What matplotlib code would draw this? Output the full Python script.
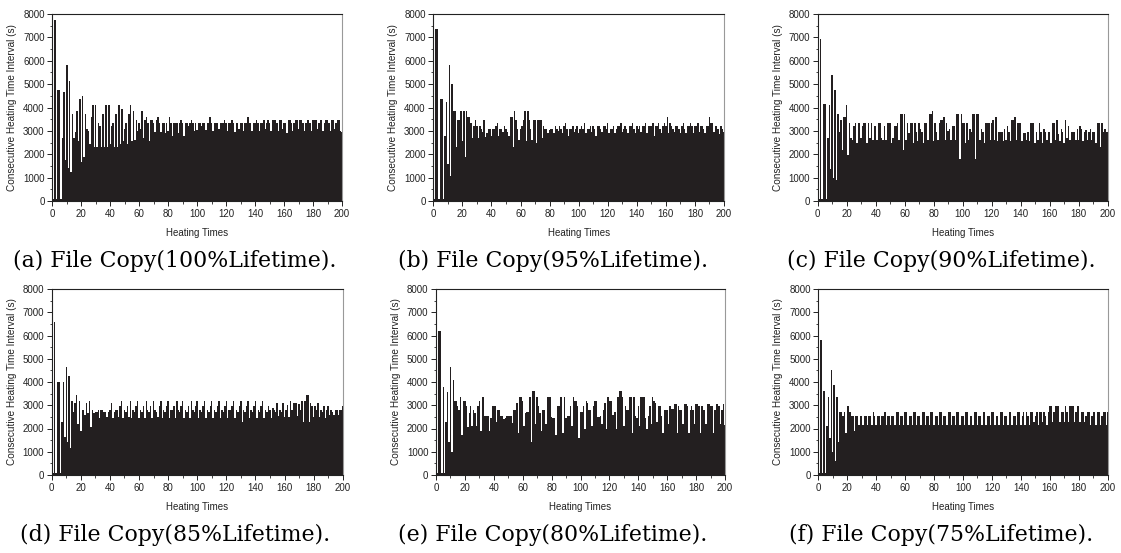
import numpy as np
import matplotlib
matplotlib.use("Agg")
import matplotlib.pyplot as plt

# consecutive heating time interval (s) for each heating
life_100 = [100, 7750, 100, 4750, 4750, 100, 2700, 4650, 1750, 5800, 1400, 5150, 1250, 3720, 2700, 2950, 3850, 2550, 4350, 1650,
            4500, 1900, 3720, 3100, 3000, 2450, 3600, 4100, 2300, 4100, 2300, 3350, 3200, 2300, 3720, 2300, 4100, 2300, 4100, 2450,
            3200, 3350, 2300, 3720, 2300, 4100, 2450, 3950, 2550, 3100, 3350, 2450, 3720, 4100, 2550, 3850, 2600, 3450, 3000, 3350,
            3100, 3850, 2700, 3450, 3600, 3350, 2550, 3450, 3450, 3350, 2950, 3450, 3600, 3350, 2950, 3350, 3350, 2900, 3350, 3000,
            3600, 3350, 2800, 3350, 3350, 3350, 2900, 3350, 3450, 3350, 2800, 3350, 3350, 3200, 3350, 3450, 3350, 3000, 3350, 3050,
            3350, 3350, 3200, 3350, 3350, 3050, 3350, 3350, 3600, 3350, 3000, 3350, 3350, 3350, 3100, 3350, 3350, 3350, 3450, 3350,
            3000, 3350, 3350, 3450, 3350, 2950, 3350, 3350, 3100, 3350, 3350, 3000, 3350, 3350, 3600, 3350, 3350, 3000, 3350, 3350,
            3450, 3350, 3000, 3350, 3350, 3450, 3100, 3350, 3450, 3350, 3000, 3450, 3450, 3450, 3350, 3000, 3450, 3450, 3100, 3350,
            3350, 2900, 3450, 3450, 3350, 3000, 3350, 3450, 3450, 3100, 3450, 3450, 3350, 3000, 3350, 3450, 3450, 3350, 3000, 3450,
            3450, 3450, 3100, 3350, 3450, 3450, 3000, 3350, 3450, 3450, 3350, 3000, 3450, 3450, 3100, 3350, 3450, 3450, 3000, 2950]

life_95 = [100, 7350, 7350, 100, 4350, 4350, 100, 2800, 4250, 1600, 5800, 1050, 5000, 3850, 3850, 2300, 3450, 3450, 3850, 2550,
           3850, 1900, 3850, 3600, 3600, 3350, 2700, 3200, 3450, 3200, 2700, 3200, 3100, 2950, 3450, 2750, 2900, 3100, 3100, 2800,
           3100, 3100, 3200, 3350, 2800, 3100, 3100, 2950, 3200, 3100, 2950, 2800, 3600, 3600, 2300, 3850, 3450, 3100, 2600, 3100,
           3200, 3450, 3850, 2550, 3850, 3450, 3100, 2600, 3450, 3450, 2500, 3450, 3450, 3450, 2700, 3200, 3100, 3100, 2900, 3050,
           3100, 3100, 2900, 3200, 3100, 3000, 3200, 3100, 2900, 3200, 3350, 3100, 2800, 3100, 3100, 3200, 2950, 3100, 3200, 2900,
           3100, 3200, 3100, 3350, 2900, 3100, 3100, 3200, 2950, 3200, 3100, 2800, 3200, 3200, 3100, 2950, 3200, 3200, 3100, 3350,
           2900, 3100, 3100, 3200, 2900, 3100, 3200, 3200, 3350, 2950, 3100, 3200, 3100, 2900, 3200, 3200, 3350, 3100, 2900, 3200,
           3100, 3200, 2950, 3200, 3200, 3350, 2900, 3200, 3200, 3200, 3350, 2800, 3200, 3200, 3350, 3100, 2900, 3200, 3350, 3200,
           3600, 2900, 3350, 3200, 3100, 2950, 3200, 3200, 3100, 2900, 3200, 3350, 3100, 2900, 3200, 3200, 3350, 3200, 2900, 3200,
           3200, 3350, 2950, 3200, 3200, 3100, 2900, 3200, 3200, 3600, 3350, 3350, 2950, 3200, 3200, 3100, 2850, 3200, 3100, 2950]

life_90 = [100, 6950, 100, 4150, 4150, 100, 2700, 4100, 1380, 5400, 1000, 4750, 900, 3720, 2950, 3450, 2200, 3600, 3600, 4100,
           1950, 3350, 2700, 2600, 3200, 3350, 2500, 3350, 3350, 2700, 3200, 3350, 3350, 2500, 3350, 2700, 3350, 2600, 3200, 3200,
           2600, 3350, 3350, 2700, 2600, 3200, 2600, 3350, 3350, 3350, 2500, 2700, 3200, 3200, 3350, 2600, 3720, 3720, 2200, 3720,
           2600, 3350, 2900, 3350, 3350, 2500, 3350, 2950, 2550, 3350, 3100, 2950, 2500, 3350, 3350, 2600, 3720, 3720, 3850, 2550,
           3350, 2950, 2600, 3350, 3450, 3450, 3600, 2600, 3350, 3000, 3100, 2600, 3200, 3200, 2600, 3720, 3720, 1800, 3720, 3350,
           3350, 2500, 3350, 2600, 3100, 2950, 3720, 3720, 1800, 3720, 3720, 2600, 3100, 2950, 2500, 3350, 3350, 3350, 2600, 3350,
           3450, 2600, 3600, 2550, 2950, 2950, 2950, 2550, 3100, 2600, 3200, 2950, 2550, 3450, 3450, 3600, 2600, 3350, 3350, 3350,
           2550, 2900, 2900, 2600, 2950, 2550, 3350, 3350, 3350, 2500, 2950, 2600, 3350, 2950, 2500, 3100, 2950, 2600, 2950, 2950,
           2500, 3350, 3350, 2600, 3450, 2850, 2550, 3100, 2950, 2500, 3450, 2700, 3200, 2600, 2950, 2950, 2950, 2600, 3100, 2600,
           3200, 3100, 2550, 2950, 3050, 2600, 2950, 3100, 2600, 2950, 2950, 2500, 3350, 3350, 2300, 3350, 2950, 3100, 2950, 2950]

life_85 = [100, 6600, 100, 3980, 3980, 100, 2300, 3980, 1650, 4650, 1400, 4250, 1150, 3200, 2700, 3100, 3450, 2200, 3200, 1900,
           2800, 2800, 2600, 3100, 2650, 3200, 2050, 2800, 2650, 2700, 2700, 2800, 2450, 2800, 2800, 2700, 2700, 2500, 2700, 2800,
           3100, 2450, 2700, 2800, 2800, 2500, 2950, 3200, 2450, 2800, 2700, 2950, 2500, 3200, 2450, 2800, 2700, 2950, 3200, 2450,
           2800, 2700, 2950, 2450, 3200, 2800, 2700, 2950, 2450, 3200, 2800, 2700, 2500, 2950, 3200, 2450, 2800, 2700, 2950, 3200,
           2450, 2800, 2800, 2950, 2450, 3200, 2800, 2700, 2950, 3200, 2450, 2800, 2700, 2950, 2450, 3200, 2800, 2700, 2950, 3200,
           2450, 2800, 2700, 2950, 3200, 2450, 2800, 2700, 2950, 3200, 2450, 2800, 2700, 2950, 3200, 2450, 2800, 2700, 2950, 3200,
           2450, 2800, 2800, 2950, 3200, 2450, 2800, 2700, 2950, 3200, 2300, 2800, 2700, 2950, 3200, 2450, 2800, 2700, 2950, 3200,
           2450, 2800, 2700, 2950, 3200, 2450, 2800, 2700, 2950, 2800, 2450, 2900, 2800, 2700, 3100, 2550, 2800, 2700, 3100, 2500,
           2800, 3000, 2500, 3200, 2800, 3100, 3100, 3100, 2550, 3050, 2800, 3200, 2300, 3200, 3450, 3450, 2300, 3100, 2950, 2500,
           2950, 2800, 3100, 2500, 2800, 2700, 2950, 2450, 2800, 2950, 2600, 2800, 2700, 2600, 2800, 2800, 2600, 2800, 2800, 2950]

life_80 = [100, 6200, 6200, 100, 3780, 100, 2300, 3580, 1400, 4650, 1000, 4100, 3200, 3200, 2950, 2800, 3350, 1700, 3200, 3200,
           2950, 2050, 2650, 2950, 2100, 2800, 2650, 2100, 2950, 3200, 1900, 3350, 3350, 2550, 2550, 2550, 1900, 2450, 2950, 2950,
           2950, 2300, 2800, 2800, 2550, 2550, 2400, 2450, 2550, 2550, 2550, 2550, 2250, 2800, 2800, 3100, 1800, 3350, 3350, 3200,
           2100, 2650, 2700, 2700, 3350, 1400, 3600, 3600, 2200, 3350, 2950, 2650, 1900, 2800, 2800, 2200, 3350, 3350, 3350, 2500,
           2450, 2450, 1700, 2950, 2950, 3350, 3350, 1800, 3350, 2450, 2550, 2550, 2950, 2100, 3350, 3200, 3200, 2950, 1600, 2700,
           2700, 2950, 2000, 3200, 3100, 2800, 2800, 2100, 2950, 3200, 3200, 2500, 2500, 2550, 2200, 2800, 3100, 2000, 3350, 3200,
           3200, 2600, 2600, 2700, 2000, 3350, 3600, 3600, 3350, 2100, 2950, 2800, 2800, 3350, 3350, 1800, 3350, 2550, 2450, 2950,
           2100, 3350, 3350, 3350, 2450, 2000, 2550, 2950, 2200, 3350, 3200, 3100, 2300, 2950, 2950, 2550, 1800, 2800, 2800, 2800,
           2200, 2950, 2850, 2850, 3050, 3050, 1800, 2950, 2800, 2800, 2200, 3050, 3050, 2950, 1800, 2800, 2950, 2800, 2200, 3050,
           3050, 2950, 1800, 2950, 2800, 2800, 2200, 3050, 3050, 2950, 2950, 1800, 2800, 3050, 3050, 2950, 2200, 2800, 3050, 2150]

life_75 = [100, 5800, 100, 3600, 100, 2100, 3350, 1600, 4500, 1000, 3850, 600, 3350, 1400, 2700, 2700, 2550, 2700, 1800, 2950,
           2950, 2700, 2550, 2550, 1900, 2550, 2550, 2150, 2550, 2550, 2150, 2550, 2550, 2150, 2550, 2550, 2150, 2700, 2550, 2150,
           2550, 2550, 2150, 2550, 2550, 2700, 2150, 2550, 2550, 2150, 2550, 2550, 2150, 2700, 2700, 2150, 2550, 2550, 2150, 2700,
           2700, 2150, 2550, 2550, 2150, 2700, 2700, 2150, 2550, 2550, 2150, 2700, 2700, 2150, 2550, 2550, 2150, 2700, 2700, 2150,
           2550, 2550, 2150, 2700, 2700, 2150, 2550, 2550, 2150, 2700, 2700, 2150, 2550, 2550, 2150, 2700, 2700, 2150, 2550, 2550,
           2150, 2700, 2700, 2150, 2550, 2550, 2150, 2700, 2700, 2150, 2550, 2550, 2150, 2700, 2700, 2150, 2550, 2550, 2150, 2700,
           2700, 2150, 2550, 2550, 2150, 2700, 2700, 2150, 2550, 2550, 2150, 2700, 2700, 2150, 2550, 2550, 2150, 2700, 2700, 2150,
           2550, 2700, 2150, 2700, 2550, 2150, 2700, 2700, 2300, 2550, 2700, 2150, 2700, 2700, 2300, 2700, 2550, 2150, 2700, 2950,
           2950, 2300, 2700, 2950, 2950, 2950, 2300, 2700, 2700, 2300, 2950, 2700, 2300, 2950, 2950, 2950, 2300, 2700, 2950, 2950,
           2300, 2700, 2700, 2300, 2550, 2700, 2700, 2150, 2550, 2700, 2700, 2150, 2700, 2700, 2150, 2550, 2700, 2700, 2150, 2700]

series = [life_100, life_95, life_90, life_85, life_80, life_75]
captions = ["(a) File Copy(100%Lifetime).", "(b) File Copy(95%Lifetime).", "(c) File Copy(90%Lifetime).",
            "(d) File Copy(85%Lifetime).", "(e) File Copy(80%Lifetime).", "(f) File Copy(75%Lifetime)."]

W, H = 1121, 553
fig = plt.figure(figsize=(W / 100, H / 100), dpi=100)

# axes boxes in pixels: left, right, top, bottom
boxes = [(52.3, 342, 14, 201), (433.3, 724, 14, 201), (817.7, 1107.7, 14, 201),
         (51.7, 342.7, 289, 475), (436, 725, 289, 475), (818.3, 1107.7, 289, 475)]
cap_x = [175, 553, 941, 175, 553, 941]
cap_y = [261, 261, 261, 535, 535, 535]

sans = "Liberation Sans"
for vals, box, cap, cx, cy in zip(series, boxes, captions, cap_x, cap_y):
    l, r, t, b = box
    ax = fig.add_axes([l / W, 1 - b / H, (r - l) / W, (b - t) / H])
    x = np.arange(1, len(vals) + 1)
    ax.bar(x, vals, width=1.0, color="#231f20", linewidth=0)
    ax.set_xlim(0, 200)
    ax.set_ylim(0, 8000)
    ax.set_xticks(np.arange(0, 201, 20))
    ax.set_yticks(np.arange(0, 8001, 1000))
    ax.set_xticks(np.arange(10, 200, 20), minor=True)
    ax.set_yticks(np.arange(500, 8000, 1000), minor=True)
    ax.tick_params(which="major", direction="out", length=3.5, width=0.7, labelsize=7, pad=2, colors="#222222")
    ax.tick_params(which="minor", direction="out", length=1.8, width=0.6, colors="#222222")
    for lab in ax.get_xticklabels() + ax.get_yticklabels():
        lab.set_family(sans)
    for side in ["left", "bottom", "top"]:
        ax.spines[side].set_linewidth(0.8)
        ax.spines[side].set_color("#222222")
    ax.spines["right"].set_linewidth(0.8)
    ax.spines["right"].set_color("#999999")
    ax.set_xlabel("Heating Times", fontsize=7, family=sans, labelpad=7, color="#222222")
    ax.set_ylabel("Consecutive Heating Time Interval (s)", fontsize=7.2, family=sans, labelpad=4, color="#222222")
    fig.text(cx / W, 1 - cy / H, cap, ha="center", va="center", fontsize=15.8, family="DejaVu Serif")

fig.savefig("out.png", dpi=100)
